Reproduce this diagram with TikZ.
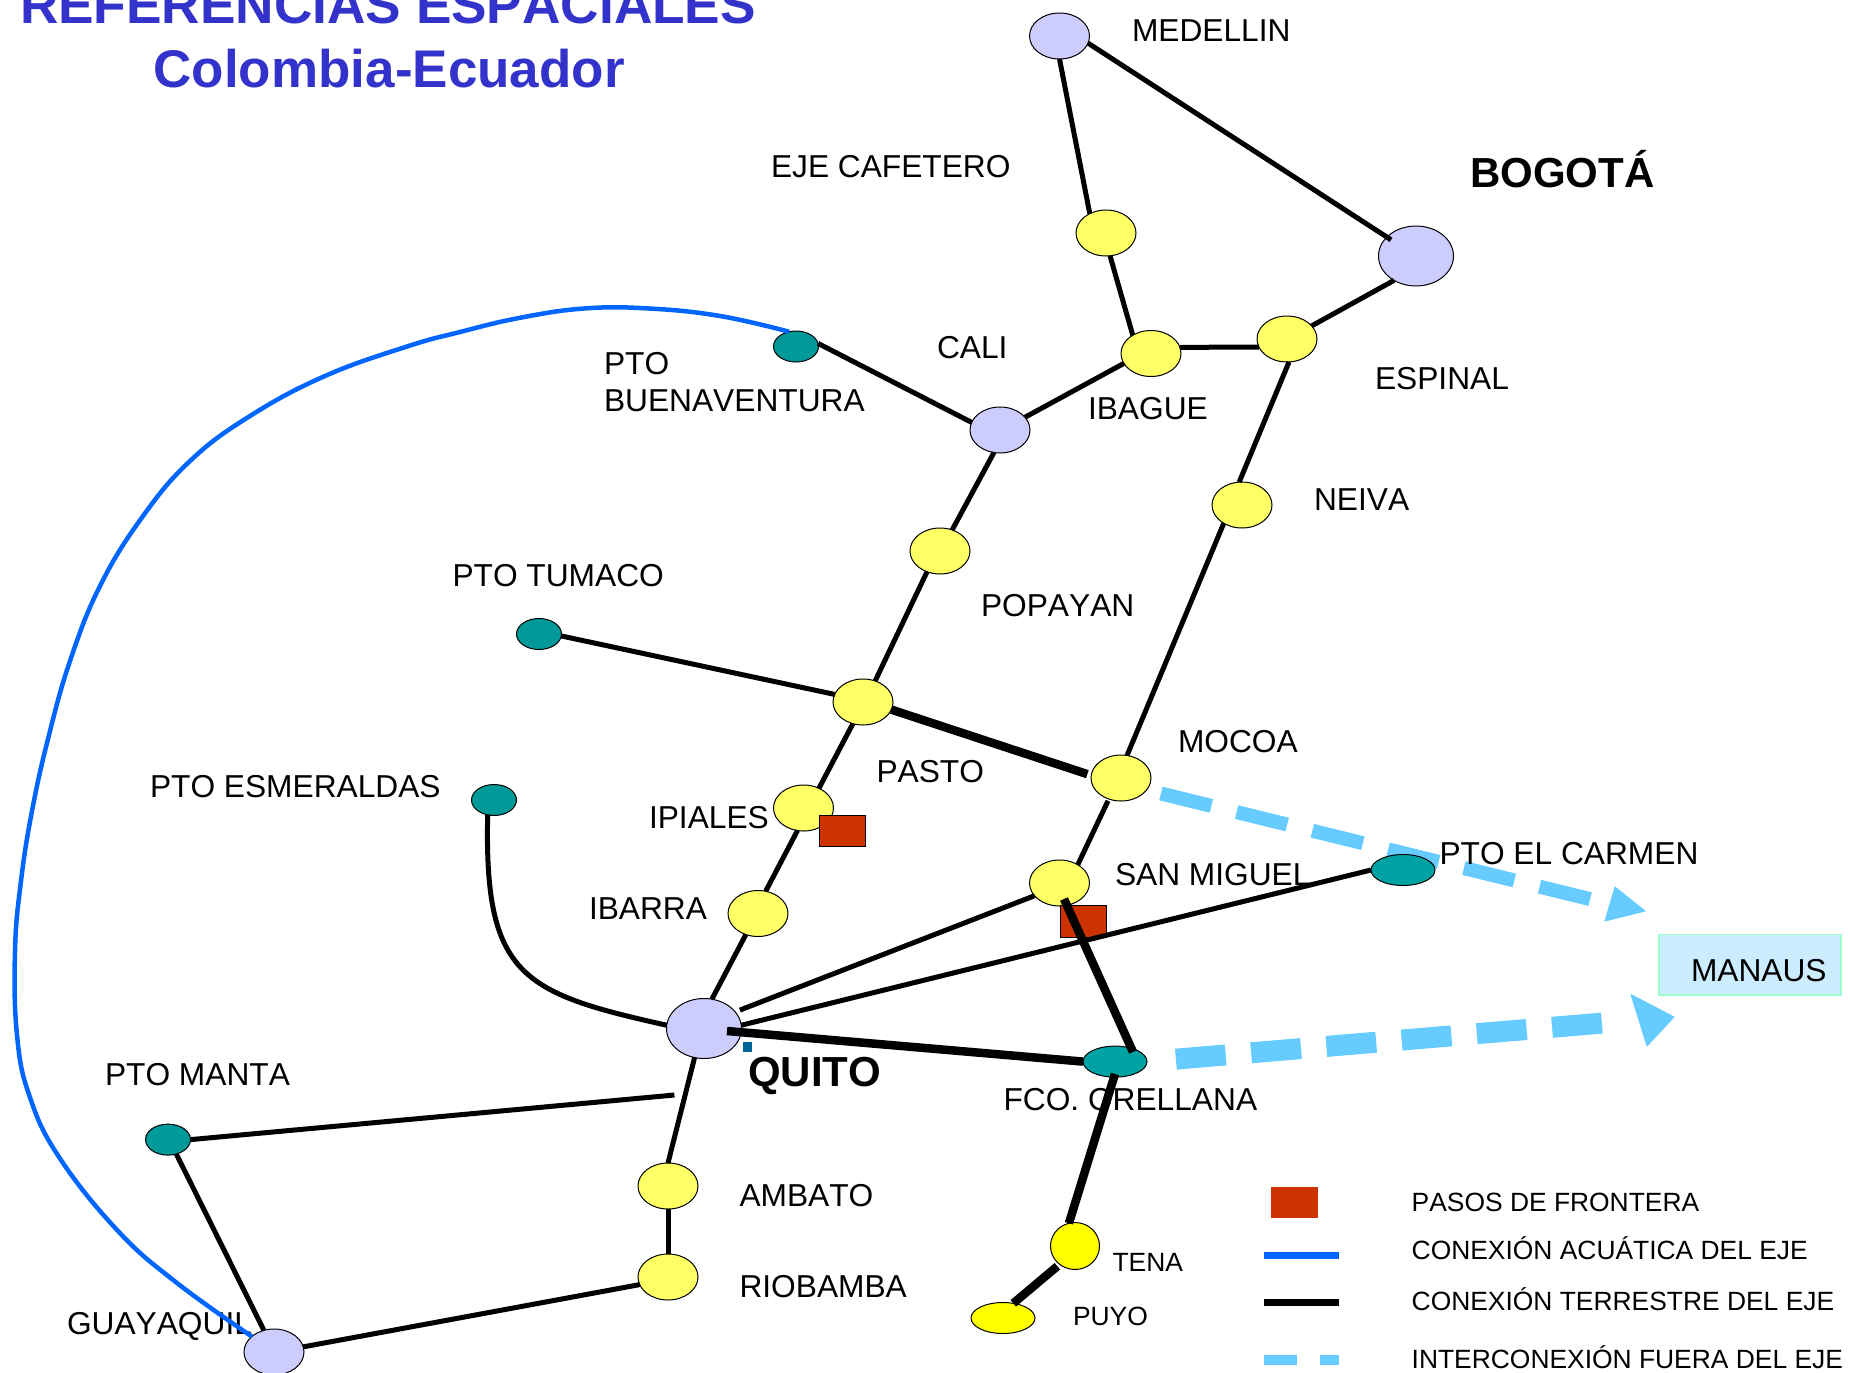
\documentclass[tikz,border=0pt]{standalone}
\usepackage{fontspec}
\setmainfont[Kerning=Off]{Liberation Sans}
\usetikzlibrary{shapes.geometric}
\definecolor{cityy}{HTML}{FFFF66}
\definecolor{cityv}{HTML}{CCCCFF}
\definecolor{portt}{HTML}{009999}
\definecolor{portb}{HTML}{00A3A3}
\definecolor{pure}{HTML}{FFFF00}
\definecolor{paso}{HTML}{CC3300}
\definecolor{fuera}{HTML}{66CCFF}
\definecolor{agua}{HTML}{0066FF}
\definecolor{titulo}{HTML}{3333CC}
\definecolor{mbox}{HTML}{CCECFF}
\definecolor{mline}{HTML}{99FFCC}
\definecolor{punto}{HTML}{006699}
\tikzset{
  place/.style={ellipse,draw=black,line width=1pt,inner sep=0pt,outer sep=0pt},
  yel/.style={place,fill=cityy,minimum width=60pt,minimum height=46pt},
  vio/.style={place,fill=cityv,minimum width=60pt,minimum height=46pt},
  big/.style={place,fill=cityv,minimum width=75pt,minimum height=60pt},
  port/.style={place,fill=portt,minimum width=45pt,minimum height=31pt},
  wideport/.style={place,fill=portb,minimum width=64pt,minimum height=31pt},
  frontera/.style={rectangle,draw=black,line width=.8pt,fill=paso,inner sep=0pt,minimum width=46pt,minimum height=31pt},
  lbl/.style={anchor=base west,inner sep=0pt,outer sep=0pt,font=\fontsize{31.7}{36.6}\selectfont},
  lblbold/.style={anchor=base west,inner sep=0pt,outer sep=0pt,font=\fontsize{42}{48}\selectfont\bfseries},
  lblsmall/.style={anchor=base west,inner sep=0pt,outer sep=0pt,font=\fontsize{26.4}{30}\selectfont},
  ttl/.style={anchor=base west,inner sep=0pt,outer sep=0pt,text=titulo,font=\fontsize{52}{60}\selectfont\bfseries},
  road/.style={draw=black,line width=5pt},
  thickroad/.style={draw=black,line width=8.5pt},
  water/.style={draw=agua,line width=4.5pt},
  outa/.style={draw=fuera,line width=14pt,dash pattern=on 52pt off 26pt},
  outb/.style={draw=fuera,line width=21pt,dash pattern=on 50pt off 25.5pt},
  tip/.style={fill=fuera,draw=fuera,line width=1pt,line join=round}
}
\begin{document}
\begin{tikzpicture}[x=1pt,y=-1pt]
\useasboundingbox (0,-1) rectangle (1850,1372);
\clip (0,-1) rectangle (1850,1372);

% nodes used by the dashed links
\node[yel] (mocoa) at (1121,777) {};
\node[wideport] (orellana) at (1115,1060.6) {};
\coordinate (enda) at (1610,903);
\coordinate (endb) at (1615,1021);
\draw[outa,shorten <=14.7pt] (mocoa.-25) -- (enda);
\draw[outb,shorten <=29pt] (orellana.east) -- (endb);
\fill[tip] (1615,886) -- (1605,920) -- (1645,910) -- cycle;
\fill[tip] (1631,993.6) -- (1674,1016) -- (1647,1045) -- cycle;

% cities
\node[vio] (medellin) at (1059.5,35) {};
\node[yel] (eje) at (1106,232) {};
\node[big] (bogota) at (1416,255) {};
\node[yel] (ibague) at (1151,352.5) {};
\node[yel] (espinal) at (1287,338) {};
\node[vio] (cali) at (1000,429) {};
\node[yel] (neiva) at (1242,504) {};
\node[yel] (popayan) at (940,550) {};
\node[port] (buenaventura) at (796,345.5) {};
\node[port] (tumaco) at (539,633) {};
\node[yel] (pasto) at (863,701) {};
\node[yel] (ipiales) at (803.5,807) {};
\node[yel] (ibarra) at (758,912.5) {};
\node[big] (quito) at (704,1027.5) {};
\node[port] (esmeraldas) at (494,799) {};
\node[port] (manta) at (168,1138.6) {};
\node[yel] (ambato) at (668,1185) {};
\node[yel] (riobamba) at (668,1276) {};
\node[vio] (guayaquil) at (274,1351) {};
\node[yel] (sanmiguel) at (1059.5,882) {};
\node[wideport] (carmen) at (1403,869) {};
\node[place,fill=pure,minimum width=49pt,minimum height=47pt] (tena) at (1075,1245) {};
\node[place,fill=pure,minimum width=64pt,minimum height=31pt] (puyo) at (1003,1317) {};

% border crossings
\node[frontera] (fipiales) at (842,830) {};
\node[frontera,minimum height=32pt] (fmiguel) at (1083.5,920) {};
\node[rectangle,fill=punto,inner sep=0pt,minimum width=9pt,minimum height=10pt] (dot) at (747.5,1046) {};

% Manaus
\node[rectangle,draw=mline,line width=1.5pt,fill=mbox,inner sep=0pt,minimum width=182pt,minimum height=60.5pt] (manaus) at (1750,963.7) {};

% titles
\node[ttl,font=\fontsize{53.2}{60}\selectfont\bfseries] (t1) at (20,23) {REFERENCIAS ESPACIALES};
\node[ttl,font=\fontsize{53}{60}\selectfont\bfseries] (t2) at (153.6,86.7) {Colombia-Ecuador};

% labels
\node[lbl] (lmed) at (1132,40) {MEDELLIN};
\node[lbl] (leje) at (771,176) {EJE CAFETERO};
\node[lblbold] (lbog) at (1470,186) {BOGOTÁ};
\node[lbl] (lcali) at (937,357.5) {CALI};
\node[lbl] (liba) at (1088,418) {IBAGUE};
\node[lbl] (lesp) at (1375,388) {ESPINAL};
\node[lbl] (lnei) at (1314,509) {NEIVA};
\node[lbl] (lpop) at (981,615) {POPAYAN};
\node[lbl] (lbue1) at (604,373.5) {PTO};
\node[lbl] (lbue2) at (604,410.6) {BUENAVENTURA};
\node[lbl] (ltum) at (452.5,585) {PTO TUMACO};
\node[lbl] (lesm) at (150,796.7) {PTO ESMERALDAS};
\node[lbl] (lipi) at (649,827) {IPIALES};
\node[lbl] (libar) at (589,918) {IBARRA};
\node[lbl] (lpas) at (876.5,781.5) {PASTO};
\node[lblbold] (lqui) at (748,1085.5) {QUITO};
\node[lbl] (lman) at (105,1084.6) {PTO MANTA};
\node[lbl] (lamb) at (739.5,1205.7) {AMBATO};
\node[lbl] (lrio) at (739.5,1296.7) {RIOBAMBA};
\node[lbl] (lgua) at (67,1333) {GUAYAQUIL};
\node[lbl] (lmoc) at (1178,751) {MOCOA};
\node[lbl] (lsan) at (1115,884) {SAN MIGUEL};
\node[lbl] (lcar) at (1439.5,863) {PTO EL CARMEN};
\node[lbl] (lmna) at (1691,980.5) {MANAUS};
\node[lbl] (lore) at (1003.5,1109) {FCO. ORELLANA};
\node[lblsmall] (lten) at (1112.6,1270) {TENA};
\node[lblsmall] (lpuy) at (1073,1324.6) {PUYO};

% connectors
\draw[road,shorten >=-5pt] (medellin.-14) -- (bogota.147);
\draw[road] (medellin.south) -- (eje.130);
\draw[road] (eje.-80) -- (ibague.135);
\draw[road] (ibague.12) -- (espinal.196);
\draw[road] (espinal.28) -- (bogota.-132);
\draw[road] (espinal.-85) -- (neiva.97);
\draw[road] (neiva.-135) -- (mocoa.75);
\draw[road,shorten <=2pt] (mocoa.-120) -- (sanmiguel.45);
\draw[road,shorten >=5pt] (sanmiguel.-153) -- (quito.28);
\draw[road] (carmen.west) -- (quito.5);
\draw[road] (quito.75) -- (ibarra.-120);
\draw[road] (ibarra.71) -- (ipiales.-105);
\draw[road] (ipiales.52) -- (pasto.-115);
\draw[road] (pasto.60) -- (popayan.-122);
\draw[road] (popayan.60) -- (cali.-105);
\draw[road] (cali.27) -- (ibague.-160);
\draw[road] (buenaventura.8) -- (cali.165);
\draw[road] (tumaco.-5) -- (pasto.165);
\draw[road] (esmeraldas.-113) .. controls (484,975) and (522,992) .. (quito.175);
\coordinate (mantaend) at (674.4,1094);
\draw[road] (manta.east) -- (mantaend);
\draw[road] (manta.-60) -- (guayaquil.115);
\draw[road] (quito.-108) -- (ambato.north);
\draw[road] (ambato) -- (riobamba);
\draw[road] (riobamba.195) -- (guayaquil.10);

\draw[thickroad,shorten >=4pt] (pasto.-15) -- (mocoa.175);
\coordinate (quitoin) at (727,1030);
\draw[thickroad] (quitoin) -- (orellana.west);
\coordinate (miguelin) at (1064,898);
\coordinate (orellanatop) at (1133,1051);
\draw[thickroad] (miguelin) -- (orellanatop);
\coordinate (orellanain) at (1115,1073);
\draw[thickroad] (orellanain) -- (tena.105);
\draw[thickroad,shorten <=3pt] (tena.-130) -- (puyo.55);

\draw[water] plot[smooth,tension=.7] coordinates {(buenaventura.115) (720,315) (649,307.5) (584,307.5) (519,317) (460,331) (407,345.5) (325,375) (250,415) (190,460) (141.6,517) (100,585) (70,660) (48,738) (32,810) (21,880) (15,950) (17,1034) (29.5,1095) (59,1156) (118,1230) (177,1282) (guayaquil.145)};

% legend
\node[rectangle,fill=paso,inner sep=0pt,minimum width=47pt,minimum height=31pt] (legpaso) at (1294.5,1201.5) {};
\coordinate (wa) at (1264,1254); \coordinate (wb) at (1339,1254);
\coordinate (ra) at (1264,1301.5); \coordinate (rb) at (1339,1301.5);
\coordinate (da) at (1264,1359); \coordinate (db) at (1339,1359);
\draw[water,line width=7pt] (wa) -- (wb);
\draw[road,line width=7.5pt] (ra) -- (rb);
\draw[draw=fuera,line width=10pt,dash pattern=on 33pt off 23pt] (da) -- (db);
\node[lblsmall] (lg1) at (1411.7,1210.5) {PASOS DE FRONTERA};
\node[lblsmall] (lg2) at (1411.7,1258.8) {CONEXIÓN ACUÁTICA DEL EJE};
\node[lblsmall] (lg3) at (1411.7,1309.8) {CONEXIÓN TERRESTRE DEL EJE};
\node[lblsmall] (lg4) at (1411.7,1367) {INTERCONEXIÓN FUERA DEL EJE};
\end{tikzpicture}
\end{document}
